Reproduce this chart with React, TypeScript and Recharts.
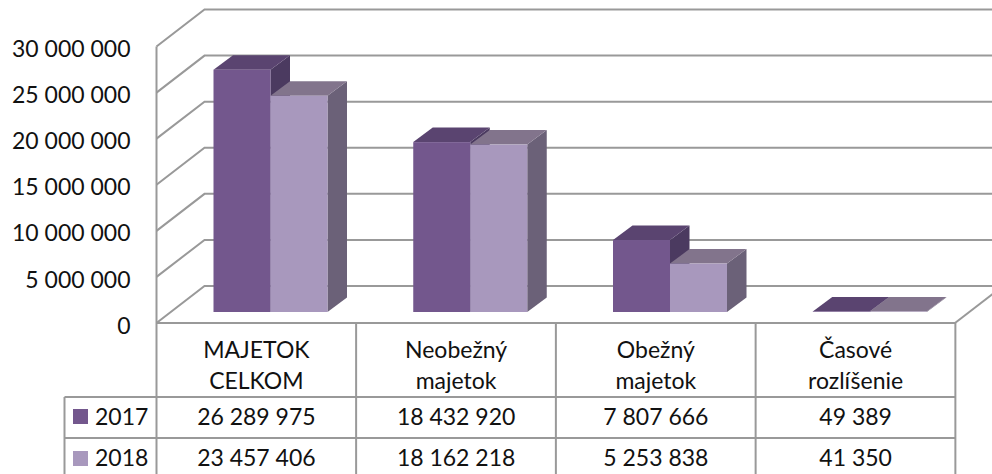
import React from "react";
import { BarChart, Bar, XAxis, YAxis, CartesianGrid } from "recharts";

const categories = ["MAJETOK CELKOM", "Neobežný majetok", "Obežný majetok", "Časové rozlíšenie"];
const values2017 = [26289975, 18432920, 7807666, 49389];
const values2018 = [23457406, 18162218, 5253838, 41350];
const yTicks = [0, 5000000, 10000000, 15000000, 20000000, 25000000, 30000000];

const data = categories.map((name, i) => ({ name, y2017: values2017[i], y2018: values2018[i] }));

const FONT = "Lato, sans-serif";
const LINE = "#999999";
const COLORS = {
  y2017: { front: "#73578D", top: "#5A4470", side: "#4B3A60" },
  y2018: { front: "#A898BD", top: "#82748C", side: "#6B6178" },
};

// depth of the fake 3D box
const WALL_DX = 48;
const WALL_DY = -37;
const BAR_DX = 19.5;
const BAR_DY = -14.5;
const BAR_SHIFT_X = 14;
const BAR_SHIFT_Y = -11;

const fmt = (v: number) => String(v).replace(/\B(?=(\d{3})+(?!\d))/g, " ");

function Box3D(props: any) {
  const { x, y, width, height, colors } = props;
  const l = x + BAR_SHIFT_X;
  const r = l + width;
  const t = y + BAR_SHIFT_Y;
  const b = t + height;
  return (
    <g>
      <polygon points={`${r},${t} ${r + BAR_DX},${t + BAR_DY} ${r + BAR_DX},${b + BAR_DY} ${r},${b}`} fill={colors.side} />
      <polygon points={`${l},${t} ${l + BAR_DX},${t + BAR_DY} ${r + BAR_DX},${t + BAR_DY} ${r},${t}`} fill={colors.top} />
      <rect x={l} y={t} width={width} height={height} fill={colors.front} />
    </g>
  );
}

function WallLine(props: any) {
  const { x1, x2, y1 } = props;
  return (
    <polyline
      points={`${x1},${y1} ${x1 + WALL_DX},${y1 + WALL_DY} ${x2 + WALL_DX},${y1 + WALL_DY}`}
      fill="none"
      stroke={LINE}
      strokeWidth={2}
    />
  );
}

function TableColumn(props: any) {
  const { x, y, payload, index } = props;
  const half = 99.75;
  const [first, ...rest] = String(payload.value).split(" ");
  const textProps = { textAnchor: "middle" as const, fontFamily: FONT, fontSize: 23, fill: "#111" };
  return (
    <g>
      <line x1={x + half} x2={x + half} y1={y} y2={y + 160} stroke={LINE} strokeWidth={2} />
      <text x={x} y={y + 35} {...textProps}>{first}</text>
      <text x={x} y={y + 66} {...textProps}>{rest.join(" ")}</text>
      <text x={x} y={y + 102} {...textProps}>{fmt(values2017[index])}</text>
      <text x={x} y={y + 143} {...textProps}>{fmt(values2018[index])}</text>
    </g>
  );
}

export default function App() {
  return (
    <div style={{ position: "absolute", left: 0, top: 0, width: 992, height: 474, background: "#fff" }}>
      <BarChart
        width={992}
        height={474}
        data={data}
        barSize={57}
        barGap={0}
        margin={{ top: 46.5, right: 36.5, left: 0, bottom: 0 }}
      >
        <CartesianGrid vertical={false} horizontal={(p: any) => <WallLine {...p} />} />
        <line x1={955} y1={323} x2={1003} y2={286} stroke={LINE} strokeWidth={2} />
        <YAxis
          width={156.5}
          domain={[0, 30000000]}
          ticks={yTicks}
          interval={0}
          tickFormatter={fmt}
          tickSize={0}
          tickMargin={26}
          tick={{ fontFamily: FONT, fontSize: 23, fill: "#111", dy: 2.5 }}
          axisLine={{ stroke: LINE, strokeWidth: 2 }}
        />
        <XAxis
          dataKey="name"
          height={151}
          interval={0}
          tickLine={false}
          tickSize={0}
          tickMargin={0}
          tick={(p: any) => <TableColumn {...p} />}
          axisLine={{ stroke: LINE, strokeWidth: 2 }}
        />
        <Bar dataKey="y2017" isAnimationActive={false} shape={(p: any) => <Box3D {...p} colors={COLORS.y2017} />} />
        <Bar dataKey="y2018" isAnimationActive={false} shape={(p: any) => <Box3D {...p} colors={COLORS.y2018} />} />
        <g>
          <line x1={156.5} x2={156.5} y1={323} y2={480} stroke={LINE} strokeWidth={2} />
          <line x1={64.5} x2={955} y1={397} y2={397} stroke={LINE} strokeWidth={2} />
          <line x1={64.5} x2={955} y1={438} y2={438} stroke={LINE} strokeWidth={2} />
          <line x1={64.5} x2={64.5} y1={397} y2={480} stroke={LINE} strokeWidth={2} />
          <rect x={73} y={409} width={15} height={15} fill={COLORS.y2017.front} />
          <rect x={73} y={451} width={15} height={15} fill={COLORS.y2018.front} />
          <text x={95} y={425} fontFamily={FONT} fontSize={23} fill="#111">2017</text>
          <text x={95} y={466} fontFamily={FONT} fontSize={23} fill="#111">2018</text>
        </g>
      </BarChart>
    </div>
  );
}
